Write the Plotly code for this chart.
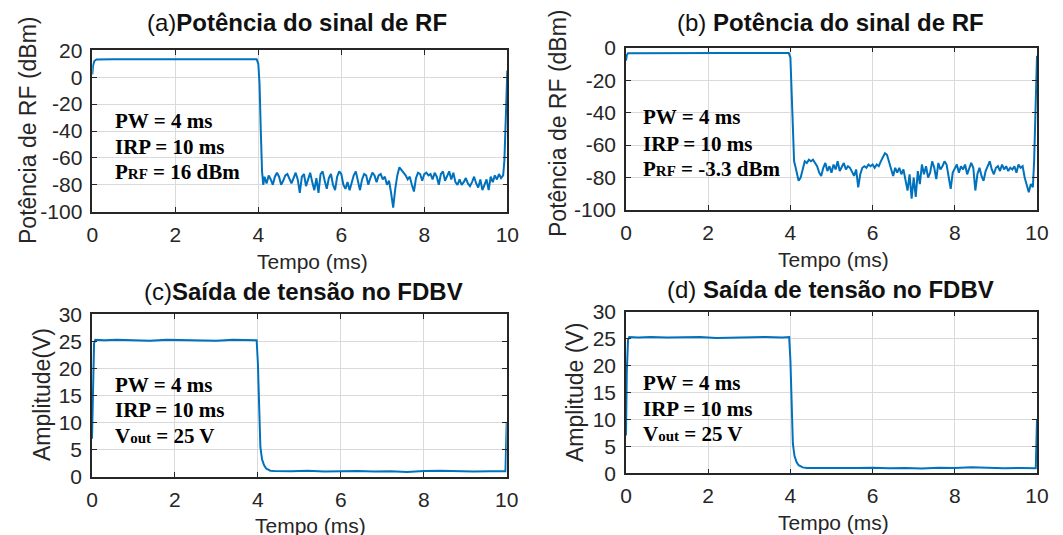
import plotly.graph_objects as go

# ---------------- data ----------------
# (a) RF power, PRF = 16 dBm
t_a = [0.0, 0.02, 0.05, 0.1, 0.5, 1.0, 1.5, 2.0, 2.5, 3.0, 3.5, 3.96, 4.0, 4.03, 4.06, 4.09, 4.12,
       4.15, 4.2, 4.25, 4.3, 4.35, 4.4, 4.45, 4.5, 4.55, 4.6, 4.65, 4.7, 4.75, 4.8, 4.85, 4.9, 4.95,
       5.0, 5.05, 5.1, 5.15, 5.2, 5.25, 5.3, 5.35, 5.4, 5.45, 5.5, 5.55, 5.6, 5.65, 5.7, 5.75, 5.8,
       5.85, 5.9, 5.95, 6.0, 6.05, 6.1, 6.15, 6.2, 6.25, 6.3, 6.35, 6.4, 6.45, 6.5, 6.55, 6.6, 6.65,
       6.7, 6.75, 6.8, 6.85, 6.9, 6.95, 7.0, 7.05, 7.1, 7.15, 7.2, 7.25, 7.3, 7.35, 7.4, 7.45, 7.5,
       7.55, 7.6, 7.65, 7.7, 7.75, 7.8, 7.85, 7.9, 7.95, 8.0, 8.05, 8.1, 8.15, 8.2, 8.25, 8.3, 8.35,
       8.4, 8.45, 8.5, 8.55, 8.6, 8.65, 8.7, 8.75, 8.8, 8.85, 8.9, 8.95, 9.0, 9.05, 9.1, 9.15, 9.2,
       9.25, 9.3, 9.35, 9.4, 9.45, 9.5, 9.55, 9.6, 9.65, 9.7, 9.75, 9.8, 9.85, 9.9, 9.93, 9.96,
       9.98, 10.0]
p_a = [2, 9, 12, 13.2, 13.3, 13.3, 13.3, 13.3, 13.3, 13.3, 13.3, 13.3, 10, -5, -40, -70, -80,
       -74, -79, -73, -76, -80, -74, -71, -74, -80, -77, -73, -72, -75, -79, -75, -71, -76,
       -86, -74, -72, -81, -76, -71, -78, -84, -75, -86, -72, -70, -77, -83, -75, -72, -80,
       -84, -74, -70, -72, -80, -83, -78, -84, -79, -73, -70, -76, -84, -76, -72, -73, -80,
       -75, -71, -73, -78, -73, -72, -76, -74, -80, -77, -86, -97, -83, -73, -67, -69, -71,
       -73, -76, -74, -80, -85, -75, -71, -72, -77, -72, -71, -73, -72, -76, -71, -74, -80,
       -72, -70, -77, -73, -70, -76, -71, -78, -80, -76, -80, -78, -75, -79, -81, -78, -74,
       -79, -82, -76, -84, -80, -76, -84, -74, -78, -73, -76, -72, -75, -73, -62, -40,
       -15, 5]

# (b) RF power, PRF = -3.3 dBm
t_b = [0.0, 0.02, 0.05, 0.5, 1.0, 1.5, 2.0, 2.5, 3.0, 3.5, 3.96, 4.0, 4.03, 4.06, 4.09, 4.12,
       4.15, 4.2, 4.25, 4.3, 4.35, 4.4, 4.45, 4.5, 4.55, 4.6, 4.65, 4.7, 4.75, 4.8, 4.85, 4.9, 4.95,
       5.0, 5.05, 5.1, 5.15, 5.2, 5.25, 5.3, 5.35, 5.4, 5.45, 5.5, 5.55, 5.6, 5.65, 5.7, 5.75, 5.8,
       5.85, 5.9, 5.95, 6.0, 6.05, 6.1, 6.15, 6.2, 6.25, 6.3, 6.35, 6.4, 6.45, 6.5, 6.55, 6.6, 6.65,
       6.7, 6.75, 6.8, 6.85, 6.9, 6.95, 7.0, 7.05, 7.1, 7.15, 7.2, 7.25, 7.3, 7.35, 7.4, 7.45, 7.5,
       7.55, 7.6, 7.65, 7.7, 7.75, 7.8, 7.85, 7.9, 7.95, 8.0, 8.05, 8.1, 8.15, 8.2, 8.25, 8.3, 8.35,
       8.4, 8.45, 8.5, 8.55, 8.6, 8.65, 8.7, 8.75, 8.8, 8.85, 8.9, 8.95, 9.0, 9.05, 9.1, 9.15, 9.2,
       9.25, 9.3, 9.35, 9.4, 9.45, 9.5, 9.55, 9.6, 9.65, 9.7, 9.75, 9.8, 9.85, 9.9, 9.93, 9.96,
       9.98, 10.0]
p_b = [-8, -4.5, -3.4, -3.3, -3.3, -3.3, -3.3, -3.3, -3.3, -3.3, -3.3, -6, -25, -55, -70, -73,
       -76, -82, -80, -74, -70, -71, -69, -70, -69, -71, -73, -77, -79, -74, -71, -76, -73,
       -77, -72, -75, -70, -76, -73, -71, -75, -73, -74, -77, -79, -75, -86, -78, -74, -73,
       -74, -72, -73, -72, -74, -72, -73, -70, -67, -65, -66, -70, -75, -79, -74, -77, -74,
       -78, -75, -81, -88, -78, -93, -80, -92, -76, -84, -72, -78, -73, -80, -77, -70, -74,
       -81, -71, -75, -73, -70, -72, -80, -87, -77, -74, -72, -77, -73, -75, -72, -78, -75,
       -71, -74, -88, -78, -74, -79, -82, -76, -73, -70, -75, -78, -74, -73, -76, -72, -75,
       -73, -76, -74, -75, -73, -77, -72, -74, -73, -80, -85, -89, -84, -86, -70, -40,
       -15, -5]

# (c) and (d) detector output voltage, Vout = 25 V
t_c = [0.0, 0.02, 0.05, 0.08, 0.3, 0.6, 1.0, 1.4, 1.8, 2.2, 2.6, 3.0, 3.4, 3.8, 3.97, 4.0,
       4.03, 4.06, 4.1, 4.15, 4.2, 4.25, 4.3, 4.4, 4.8, 5.2, 5.6, 6.0, 6.4, 6.8, 7.2, 7.6, 8.0,
       8.4, 8.8, 9.2, 9.6, 9.97, 10.0]
v_c = [7, 18, 24.6, 25.3, 25.2, 25.3, 25.2, 25.1, 25.3, 25.2, 25.2, 25.1, 25.3, 25.2, 25.2, 21,
       10, 5.5, 3.2, 2.1, 1.5, 1.25, 1.1, 1.05, 1.0, 1.1, 0.95, 1.0, 1.05, 0.95, 1.0, 0.85, 1.05,
       1.1, 1.0, 0.95, 1.0, 1.0, 10]
t_d = [0.0, 0.02, 0.05, 0.08, 0.3, 0.6, 1.0, 1.4, 1.8, 2.2, 2.6, 3.0, 3.4, 3.8, 3.97, 4.0,
       4.03, 4.06, 4.1, 4.15, 4.2, 4.25, 4.3, 4.4, 4.8, 5.2, 5.6, 6.0, 6.4, 6.8, 7.2, 7.6, 8.0,
       8.4, 8.8, 9.2, 9.6, 9.97, 10.0]
v_d = [7, 19, 24.8, 25.3, 25.2, 25.3, 25.2, 25.2, 25.3, 25.1, 25.2, 25.2, 25.3, 25.2, 25.3, 21,
       10, 5.5, 3.2, 2.1, 1.5, 1.25, 1.1, 1.0, 1.05, 1.0, 1.0, 1.05, 0.95, 1.0, 0.9, 1.05, 1.0,
       1.1, 1.05, 0.95, 1.0, 0.95, 10]

x_ticks = [0, 2, 4, 6, 8, 10]
y_ticks_a = [20, 0, -20, -40, -60, -80, -100]
y_ticks_b = [0, -20, -40, -60, -80, -100]
y_ticks_v = [0, 5, 10, 15, 20, 25, 30]

titles = ["(a)<b>Potência do sinal de RF</b>", "(b) <b>Potência do sinal de RF</b>",
          "(c)<b>Saída de tensão no FDBV</b>", "(d) <b>Saída de tensão no FDBV</b>"]
ytitles = ["Potência de RF (dBm)", "Potência de RF (dBm)", "Amplitude(V)", "Amplitude (V)"]
xtitle = "Tempo (ms)"
SUB = "<span style='font-size:15px'>%s</span>"
info_a = ["PW = 4 ms", "IRP = 10 ms", "P" + SUB % "RF" + " = 16 dBm"]
info_b = ["PW = 4 ms", "IRP = 10 ms", "P" + SUB % "RF" + " = -3.3 dBm"]
info_v = ["PW = 4 ms", "IRP = 10 ms", "V" + SUB % "out" + " = 25 V"]

# ---------------- figure ----------------
# the page body has an 8px margin, so the figure is drawn 8px smaller and
# all reference pixel positions are shifted by 8px
OFF = 8
W, H = 1063 - OFF, 535 - OFF
BLUE = "#0072BD"
AX = "#262626"
FONT = "Liberation Sans"

def px(x):
    return (x - OFF) / W

def py(y):
    return 1 - (y - OFF) / H

fig = go.Figure()
series = [(t_a, p_a), (t_b, p_b), (t_c, v_c), (t_d, v_d)]
for i, (t, v) in enumerate(series):
    k = "" if i == 0 else str(i + 1)
    fig.add_trace(go.Scatter(x=t, y=v, mode="lines", xaxis="x" + k, yaxis="y" + k,
                             line=dict(color=BLUE, width=2), showlegend=False,
                             hoverinfo="skip"))

# panel geometry (reference pixels): left, right, top, bottom
panels = [(92.3, 507.3, 50.3, 211.7), (626, 1037, 47.7, 210),
          (92, 506.7, 314.3, 476.7), (626, 1037, 311.7, 473.3)]
yranges = [[-100, 20], [-100, 0], [0, 30], [0, 30]]
yticks = [y_ticks_a, y_ticks_b, y_ticks_v, y_ticks_v]

common = dict(showline=True, mirror="ticks", linecolor=AX, linewidth=1.5,
              ticks="inside", ticklen=5, tickcolor=AX, tickwidth=1.3,
              showgrid=True, gridcolor="#dadada", gridwidth=1, zeroline=False,
              automargin=False,
              tickfont=dict(family=FONT, size=21, color=AX))
lay = {}
for i, (l, r, t, b) in enumerate(panels):
    k = "" if i == 0 else str(i + 1)
    lay["xaxis" + k] = dict(common, domain=[px(l), px(r)], range=[0, 10], tickvals=x_ticks,
                            ticktext=[str(v) for v in x_ticks],
                            anchor="y" + k, ticklabelstandoff=3)
    lay["yaxis" + k] = dict(common, domain=[py(b), py(t)], range=yranges[i], tickvals=yticks[i],
                            ticktext=[str(v) for v in yticks[i]],
                            anchor="x" + k, ticklabelstandoff=4)
fig.update_layout(**lay)

ann = []
title_pos = [(297, 22), (830, 22), (303, 291), (830, 289)]
for (x, y), txt in zip(title_pos, titles):
    ann.append(dict(x=px(x), y=py(y), xref="paper", yref="paper", text=txt, showarrow=False,
                    xanchor="center", yanchor="middle",
                    font=dict(family=FONT, size=24, color="#111111")))
ytitle_pos = [(28, 130), (558, 123), (42, 395), (575, 393)]
for (x, y), txt in zip(ytitle_pos, ytitles):
    ann.append(dict(x=px(x), y=py(y), xref="paper", yref="paper", text=txt, showarrow=False,
                    textangle=-90, xanchor="center", yanchor="middle",
                    font=dict(family=FONT, size=23, color=AX)))
xtitle_pos = [(312, 262), (833, 259), (310, 525), (833, 522)]
for x, y in xtitle_pos:
    ann.append(dict(x=px(x), y=py(y), xref="paper", yref="paper", text=xtitle, showarrow=False,
                    xanchor="center", yanchor="middle",
                    font=dict(family=FONT, size=21, color=AX)))
info_pos = [(113, [121, 147, 172], info_a), (641, [117, 144, 169], info_b),
            (113, [385, 410, 436], info_v), (641, [383, 409, 434], info_v)]
for x, ys, lines in info_pos:
    for y, txt in zip(ys, lines):
        ann.append(dict(x=px(x), y=py(y), xref="paper", yref="paper", text="<b>" + txt + "</b>",
                        showarrow=False, xanchor="left", yanchor="middle",
                        font=dict(family="Liberation Serif", size=21, color="black")))

fig.update_layout(width=W, height=H, margin=dict(l=0, r=0, t=0, b=0),
                  paper_bgcolor="white", plot_bgcolor="white", annotations=ann)

fig.write_html("out.html")
